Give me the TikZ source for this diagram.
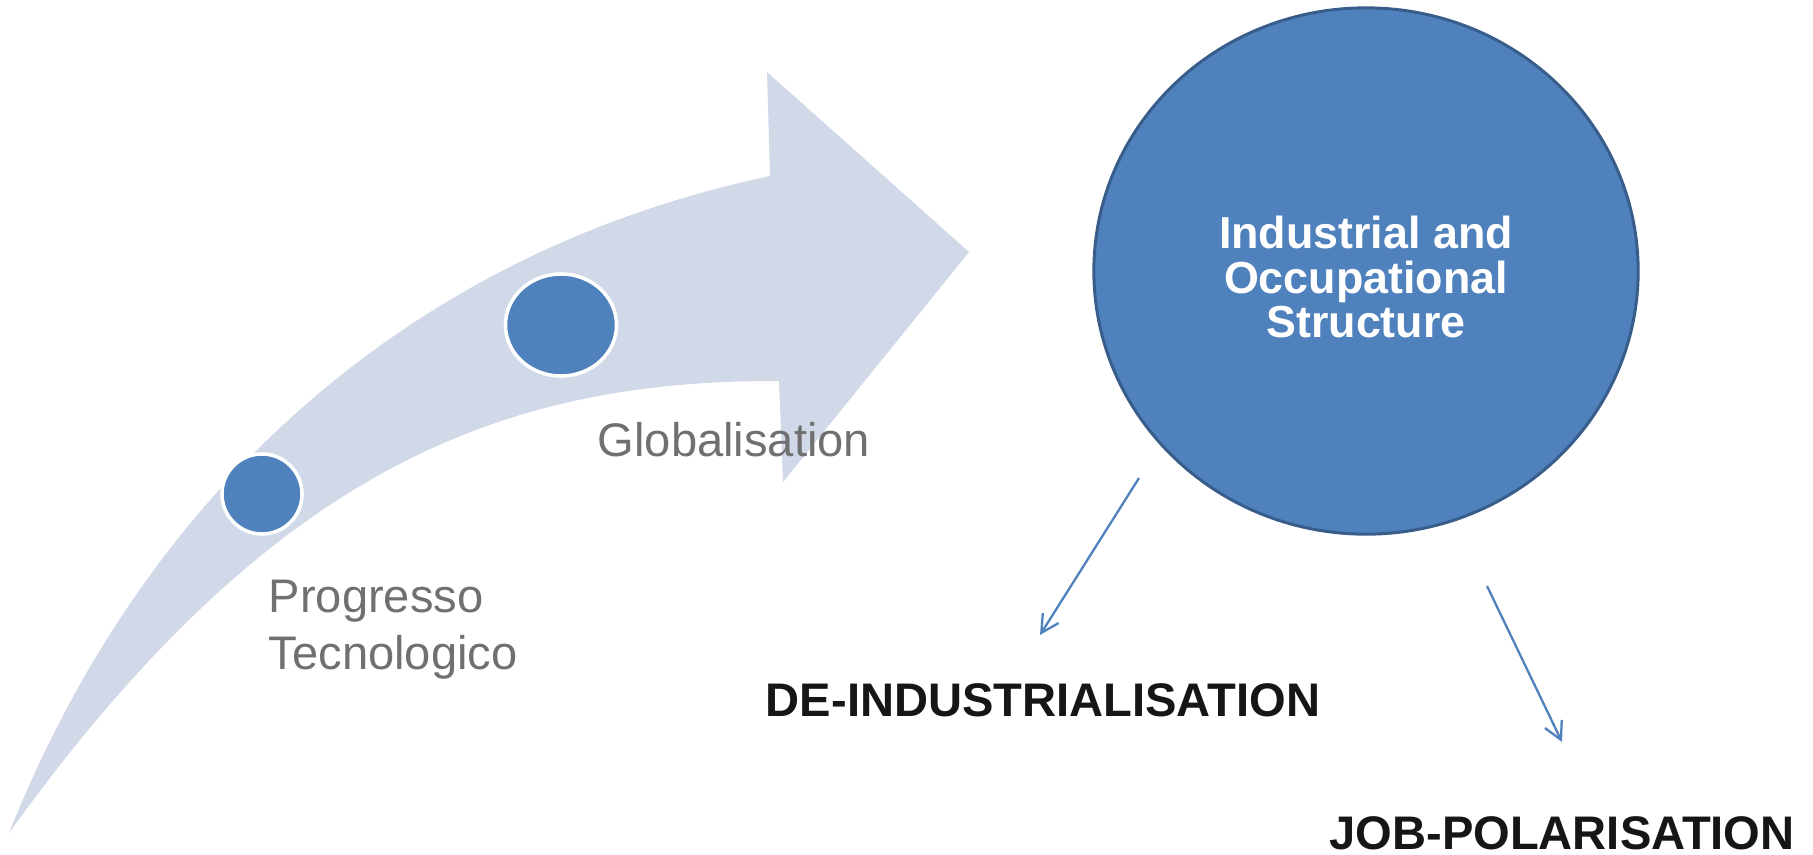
\documentclass[tikz,border=0pt]{standalone}
\usepackage{fontspec}
\setmainfont{Liberation Sans}
\usetikzlibrary{shapes.geometric,arrows.meta}
\definecolor{bandcol}{HTML}{D1D9E8}
\definecolor{dotcol}{HTML}{4F81BD}
\definecolor{rimcol}{HTML}{385D8A}
\definecolor{labelgray}{HTML}{707070}
\definecolor{inkcol}{HTML}{161616}

\begin{document}
\begin{tikzpicture}[x=0.01cm, y=-0.01cm,
    dot/.style={ellipse, fill=dotcol, draw=white, line width=1pt, inner sep=0pt},
    stage/.style={text=labelgray, font=\fontsize{13.4}{16.2}\selectfont, inner sep=0pt},
    effect/.style={text=inkcol, font=\bfseries\fontsize{13.4}{16}\selectfont, inner sep=0pt},
    link/.style={draw=dotcol, line width=0.65pt, -{Straight Barb[length=5pt,width=5.3pt]}}]
    \useasboundingbox (0,0) rectangle (1813,854);
    \fill[bandcol] (9,833) .. controls (150,480) and (420,250) .. (770,176)
        -- (767,72) -- (969,252) -- (783,482) -- (779,381)
        .. controls (500,380) and (270,470) .. (9,833) -- cycle;
    \node[dot, minimum width=0.8cm, minimum height=0.8cm] (tech) at (262,494) {};
    \node[dot, minimum width=1.11cm, minimum height=1.02cm] (glob) at (561,325) {};
    \node[stage, anchor=north west, align=left] (techlbl) at (268,579) {Progresso\\Tecnologico};
    \node[stage, anchor=base west] (globlbl) at (597,456) {Globalisation};
    \node[ellipse, fill=dotcol, draw=rimcol, line width=0.85pt, inner sep=0pt,
        minimum width=5.44cm, minimum height=5.26cm] (ios) at (1366,271) {};
    \node[align=center, text=white, inner sep=0pt,
        font=\bfseries\fontsize{12.75}{12.6}\selectfont] (iostext) at ([yshift=-1.7pt]ios.center)
        {Industrial and\\Occupational\\Structure};
    \node[effect, anchor=base] (deind) at (1043,716) {DE-INDUSTRIALISATION};
    \node[effect, anchor=base] (jobpol) at (1562,849) {JOB-POLARISATION};
    \coordinate (from1) at (1139,478);
    \coordinate (to1) at (1040,635);
    \coordinate (from2) at (1487,586);
    \coordinate (to2) at (1562,742);
    \draw[link] (from1) -- (to1);
    \draw[link] (from2) -- (to2);
\end{tikzpicture}
\end{document}
